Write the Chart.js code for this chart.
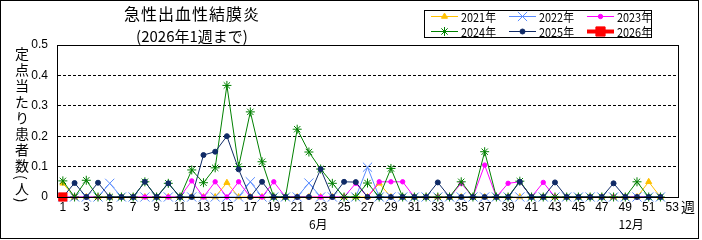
<!DOCTYPE html>
<html lang="ja">
<head>
<meta charset="utf-8">
<script src="https://cdn.jsdelivr.net/npm/chart.js@4.4.1/dist/chart.umd.min.js"></script>
<style>
  html, body { margin: 0; padding: 0; background: #fff; }
  #wrap { position: relative; width: 702px; height: 240px; }
  #chart { position: absolute; left: 0; top: 0; }
  .title {
    position: absolute; left: 92px; width: 200px; text-align: center;
    font-family: "Noto Sans CJK JP", sans-serif; color: #000; white-space: nowrap;
  }
  #ytitle {
    position: absolute; left: 15px; top: 47px;
    writing-mode: vertical-rl;
    font-family: "Noto Sans CJK JP", sans-serif; font-size: 14px; line-height: 14px;
    letter-spacing: 2px; color: #000;
  }
</style>
</head>
<body>
<div id="wrap">
  <canvas id="chart" width="702" height="240"></canvas>
  <div class="title" style="top:4px;font-size:16px;line-height:18px;letter-spacing:1px;">急性出血性結膜炎</div>
  <div class="title" style="top:27px;font-size:15px;line-height:17px;">(2026年1週まで)</div>
  <div id="ytitle">定点当たり患者数(人)</div>
</div>
<script>
// week numbers on the x axis
const weeks = ['1','2','3','4','5','6','7','8','9','10','11','12','13','14','15','16','17','18','19','20',
  '21','22','23','24','25','26','27','28','29','30','31','32','33','34','35','36','37','38','39','40',
  '41','42','43','44','45','46','47','48','49','50','51','52','53'];

// per-sentinel counts (weeks 1..52)
const y2021 = [0.045,0,0,0,0,0,0,0,0,0, 0,0,0,0,0.047,0,0,0,0,0, 0,0,0,0,0,0,0,0.045,0,0,
  0,0,0,0,0,0,0,0,0,0, 0,0,0,0,0,0,0,0,0,0, 0.05,0];
const y2022 = [0,0,0,0,0.045,0,0,0,0,0, 0,0,0,0,0,0,0.05,0,0,0, 0,0.046,0,0,0,0,0.098,0,0,0,
  0,0,0,0,0,0,0,0,0,0, 0,0,0,0,0,0,0,0,0,0, 0,0];
const y2023 = [0,0,0,0,0,0,0,0,0,0, 0,0.053,0,0.05,0,0.05,0,0,0.05,0, 0,0,0,0,0,0.045,0,0.05,0.05,0.05,
  0,0,0,0,0.045,0,0.105,0,0.045,0.05, 0,0.048,0,0,0,0,0,0,0,0, 0,0];
const y2024 = [0.053,0,0.055,0,0,0,0,0.05,0,0.045, 0,0.089,0.047,0.096,0.367,0.1,0.28,0.116,0,0,
  0.223,0.148,0.092,0.045,0,0,0.046,0,0.094,0, 0,0,0,0,0.05,0,0.149,0,0,0.052,
  0,0,0,0,0,0,0,0,0,0.05, 0,0];
const y2025 = [0,0.046,0,0.047,0,0,0,0.05,0,0.045, 0,0,0.138,0.149,0.2,0.091,0,0.05,0,0,
  0,0,0.092,0,0.05,0.049,0,0,0,0, 0,0,0.048,0,0,0,0,0,0,0.05,
  0,0,0.048,0,0,0,0,0.045,0,0, 0,0];
const y2026 = [0];

const seriesNames = ['2021年','2022年','2023年','2024年','2025年','2026年'];
const yTicks = [0, 0.1, 0.2, 0.3, 0.4, 0.5];
const monthLabels = ['6月', '12月'];
const monthPos = [22.8, 49.5]; // week under which the month name sits

const styles = [
  { color: '#FFC000', point: 'triangle', r: 3.5, w: 1 },
  { color: '#5A8CFF', point: 'crossRot', r: 6.5, w: 1 },
  { color: '#FF00FF', point: 'circle', r: 2.2, w: 1 },
  { color: '#008000', point: 'star', r: 4.5, w: 1 },
  { color: '#0F2A66', point: 'circle', r: 2.5, w: 1 },
  { color: '#FF0000', point: 'rect', r: 5.8, w: 3 }
];
const seriesData = [y2021, y2022, y2023, y2024, y2025, y2026];

const datasets = seriesData.map((d, i) => ({
  label: seriesNames[i],
  data: d,
  borderColor: styles[i].color,
  backgroundColor: styles[i].color,
  pointBorderColor: styles[i].color,
  pointBackgroundColor: styles[i].color,
  pointStyle: styles[i].point,
  pointRadius: styles[i].r,
  pointBorderWidth: 1,
  borderWidth: styles[i].w,
  tension: 0,
  clip: false,
  order: 5 - i
}));

// frame, legend box, and extra axis texts
const decor = {
  id: 'decor',
  afterDraw(chart) {
    const ctx = chart.ctx;
    const a = chart.chartArea;
    ctx.save();
    ctx.strokeStyle = '#000';
    ctx.lineWidth = 1;
    ctx.strokeRect(0.5, 0.5, 698, 238);
    ctx.strokeRect(Math.round(a.left) + 0.5, Math.round(a.top) + 0.5,
      Math.round(a.right - a.left), Math.round(a.bottom - a.top));

    // legend
    ctx.strokeRect(424.5, 10.5, 227, 27);
    const colX = [431, 509, 587];
    const rowY = [16.5, 31.5];
    ctx.font = '12px "Noto Sans CJK JP", sans-serif';
    ctx.textBaseline = 'middle';
    styles.forEach((s, i) => {
      const x = colX[i % 3], y = rowY[Math.floor(i / 3)];
      ctx.strokeStyle = s.color;
      ctx.lineWidth = i === 5 ? 4 : 1;
      ctx.beginPath();
      ctx.moveTo(x, y);
      ctx.lineTo(x + 27, y);
      ctx.stroke();
      ctx.fillStyle = s.color;
      ctx.lineWidth = 1;
      Chart.helpers.drawPoint(ctx, {
        pointStyle: s.point, radius: i === 5 ? 6.5 : s.r, rotation: 0, borderWidth: 1
      }, x + 13.5, y);
      ctx.fillStyle = '#000';
      ctx.textAlign = 'left';
      ctx.fillText(seriesNames[i], x + 30, y + 0.5, 35);
    });

    // 週 and month names
    ctx.fillStyle = '#000';
    ctx.font = '14px "Noto Sans CJK JP", sans-serif';
    ctx.textAlign = 'center';
    ctx.fillText('週', 688, 207);
    ctx.font = '12px "Noto Sans CJK JP", sans-serif';
    const xs = chart.scales.x;
    monthLabels.forEach((t, i) => {
      ctx.fillText(t, xs.getPixelForValue(monthPos[i] - 1), 224);
    });
    ctx.restore();
  }
};

new Chart(document.getElementById('chart'), {
  type: 'line',
  data: { labels: weeks, datasets: datasets },
  options: {
    responsive: false,
    animation: false,
    events: [],
    layout: { padding: { left: 0, top: 45, right: 24, bottom: 0 } },
    plugins: { legend: { display: false }, title: { display: false }, tooltip: { enabled: false } },
    scales: {
      x: {
        type: 'category',
        offset: true,
        grid: { display: false, drawTicks: false },
        border: { display: true, color: '#000', width: 1 },
        afterFit: (s) => { s.height = 43; },
        ticks: {
          autoSkip: false,
          maxRotation: 0,
          padding: 3,
          color: '#000',
          font: { family: '"Liberation Sans", sans-serif', size: 12 },
          callback: (v, i) => (i % 2 === 0 ? weeks[i] : '')
        }
      },
      y: {
        min: 0,
        max: 0.5,
        afterFit: (s) => { s.width = 57; },
        afterBuildTicks: (s) => { s.ticks = yTicks.map(v => ({ value: v })); },
        grid: {
          drawTicks: false,
          color: (c) => (c.tick && (c.tick.value === 0 || c.tick.value === 0.5) ? 'rgba(0,0,0,0)' : '#000'),
          lineWidth: 1
        },
        border: { display: true, color: '#000', width: 1, dash: [3, 2] },
        ticks: {
          padding: 9,
          color: '#000',
          font: { family: '"Liberation Sans", sans-serif', size: 12 },
          callback: (v) => (v === 0 ? '0' : v.toFixed(1))
        }
      }
    }
  },
  plugins: [decor]
});
</script>
</body>
</html>
